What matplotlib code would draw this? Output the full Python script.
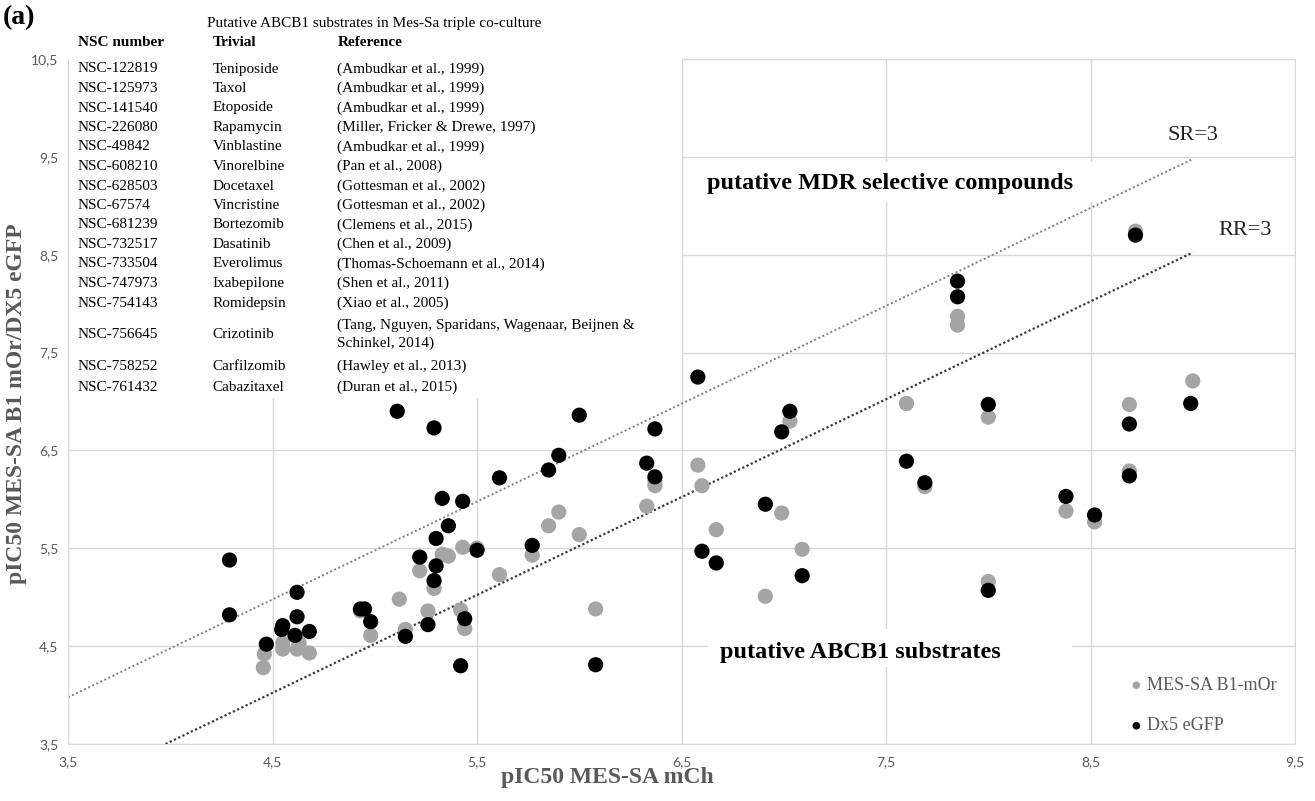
import numpy as np
import matplotlib
matplotlib.use("Agg")
import matplotlib.pyplot as plt
from matplotlib.patches import Rectangle

# --- data ---
dx5_x = [4.29, 4.29, 4.47, 4.55, 4.545, 4.61, 4.62, 4.62, 4.68, 4.93, 4.95, 4.98, 5.11, 5.15,
         5.22, 5.26, 5.29, 5.30, 5.30, 5.29, 5.33, 5.36, 5.43, 5.44, 5.42, 5.50, 5.61, 5.77,
         5.85, 5.90, 6.00, 6.08, 6.33, 6.37, 6.37, 6.58, 6.60, 6.67, 6.91, 6.99, 7.03, 7.09,
         7.60, 7.69, 7.85, 7.85, 8.00, 8.00, 8.38, 8.52, 8.69, 8.69, 8.72, 8.99]
dx5_y = [5.38, 4.82, 4.52, 4.71, 4.67, 4.61, 5.05, 4.80, 4.65, 4.88, 4.88, 4.75, 6.90, 4.60,
         5.41, 4.72, 6.73, 5.60, 5.32, 5.17, 6.01, 5.73, 5.98, 4.78, 4.30, 5.48, 6.22, 5.53,
         6.30, 6.45, 6.86, 4.31, 6.37, 6.72, 6.23, 7.25, 5.47, 5.35, 5.95, 6.69, 6.90, 5.22,
         6.39, 6.17, 8.23, 8.07, 6.97, 5.07, 6.03, 5.84, 6.77, 6.24, 8.70, 6.98]

b1_x = [4.455, 4.46, 4.55, 4.55, 4.62, 4.63, 4.68, 4.93, 4.98, 5.12, 5.15, 5.22, 5.26, 5.29,
        5.33, 5.36, 5.43, 5.42, 5.44, 5.50, 5.61, 5.77, 5.85, 5.90, 6.00, 6.08, 6.33, 6.37,
        6.37, 6.58, 6.60, 6.67, 6.91, 6.99, 7.03, 7.09, 7.60, 7.69, 7.85, 7.85, 8.00, 8.00,
        8.38, 8.52, 8.69, 8.69, 8.72, 9.00]
b1_y = [4.28, 4.42, 4.53, 4.47, 4.47, 4.53, 4.43, 4.86, 4.61, 4.98, 4.67, 5.27, 4.86, 5.09,
        5.44, 5.42, 5.51, 4.87, 4.68, 5.50, 5.23, 5.43, 5.73, 5.87, 5.64, 4.88, 5.93, 6.14,
        6.19, 6.35, 6.14, 5.69, 5.01, 5.86, 6.80, 5.49, 6.98, 6.13, 7.87, 7.78, 6.84, 5.16,
        5.88, 5.77, 6.97, 6.29, 8.74, 7.21]

ratio = 3           # SR = RR = 3 threshold lines
line_x_end = 9.0

ticks = [3.5, 4.5, 5.5, 6.5, 7.5, 8.5, 9.5, 10.5]

table_title = "Putative ABCB1 substrates in Mes-Sa triple co-culture"
table_head = ["NSC number", "Trivial", "Reference"]
nsc = ["NSC-122819", "NSC-125973", "NSC-141540", "NSC-226080", "NSC-49842", "NSC-608210",
       "NSC-628503", "NSC-67574", "NSC-681239", "NSC-732517", "NSC-733504", "NSC-747973",
       "NSC-754143", "NSC-756645", "NSC-758252", "NSC-761432"]
trivial = ["Teniposide", "Taxol", "Etoposide", "Rapamycin", "Vinblastine", "Vinorelbine",
           "Docetaxel", "Vincristine", "Bortezomib", "Dasatinib", "Everolimus", "Ixabepilone",
           "Romidepsin", "Crizotinib", "Carfilzomib", "Cabazitaxel"]
refs = ["(Ambudkar et al., 1999)", "(Ambudkar et al., 1999)", "(Ambudkar et al., 1999)",
        "(Miller, Fricker & Drewe, 1997)", "(Ambudkar et al., 1999)", "(Pan et al., 2008)",
        "(Gottesman et al., 2002)", "(Gottesman et al., 2002)", "(Clemens et al., 2015)",
        "(Chen et al., 2009)", "(Thomas-Schoemann et al., 2014)", "(Shen et al., 2011)",
        "(Xiao et al., 2005)",
        "(Tang, Nguyen, Sparidans, Wagenaar, Beijnen &\nSchinkel, 2014)",
        "(Hawley et al., 2013)", "(Duran et al., 2015)"]

SERIF = "Liberation Serif"
W, H = 1315, 801
GRID = "#d9d9d9"
TXT = "#595959"


def fx(px):
    return px / W


def fy(py):
    return 1 - py / H


fig = plt.figure(figsize=(W / 100, H / 100), dpi=100)
ax = fig.add_axes([fx(68), fy(744), fx(1295) - fx(68), fy(59) - fy(744)])
ax.set_xlim(3.5, 9.5)
ax.set_ylim(3.5, 10.5)
ax.set_xticks(ticks[:-1])
ax.set_yticks(ticks)
ax.set_xticklabels([f"{t:.1f}".replace(".", ",") for t in ticks[:-1]])
ax.set_yticklabels([f"{t:.1f}".replace(".", ",") for t in ticks])
ax.tick_params(length=0, labelsize=10, labelcolor=TXT)
ax.tick_params(axis="x", pad=9)
ax.tick_params(axis="y", pad=7)
for lab in ax.get_xticklabels() + ax.get_yticklabels():
    lab.set_family("Lato")
ax.grid(True, color=GRID, lw=1)
ax.set_axisbelow(True)
for s in ["left", "bottom", "right"]:
    ax.spines[s].set_color(GRID)
ax.spines["top"].set_visible(False)
ax.axhline(10.5, xmin=0.5, xmax=1, color=GRID, lw=1, clip_on=False, zorder=2.5)

# white panels (table area and label boxes)
ax.add_patch(Rectangle((3.5, 7.04), 3.0, 3.6, facecolor="white", edgecolor="none", zorder=1))
ax.add_patch(Rectangle((6.59, 9.04), 1.95, 0.41, facecolor="white", edgecolor="none", zorder=1))
ax.add_patch(Rectangle((6.63, 4.29), 1.78, 0.39, facecolor="white", edgecolor="none", zorder=1))

# ratio lines
off = np.log10(ratio)
sr_x = np.array([3.5, line_x_end])
rr_x = np.array([3.5 + off, line_x_end])
ax.plot(sr_x, sr_x + off, color="#7f7f7f", lw=1.4, ls=(0, (1, 1.3)), zorder=2)
ax.plot(rr_x, rr_x - off, color="#3a3a3a", lw=1.6, ls=(0, (1, 1.1)), zorder=2)

ax.scatter(b1_x, b1_y, s=120, color="#a5a5a5", edgecolors="none", zorder=3, label="MES-SA B1-mOr")
ax.scatter(dx5_x, dx5_y, s=120, color="black", edgecolors="none", zorder=4, label="Dx5 eGFP")

ax.text(6.626, 9.23, "putative MDR selective compounds", family=SERIF, weight="bold",
        fontsize=17.5, va="center", ha="left", zorder=5)
ax.text(6.686, 4.44, "putative ABCB1 substrates", family=SERIF, weight="bold",
        fontsize=17.5, va="center", ha="left", zorder=5)
ax.text(9.0, 9.72, "SR=3", family=SERIF, fontsize=16, va="center", ha="center", color="#222222")
ax.text(9.255, 8.75, "RR=3", family=SERIF, fontsize=16, va="center", ha="center", color="#222222")

leg = ax.legend(loc="upper left", bbox_to_anchor=(fx(1121), fy(668)), bbox_transform=fig.transFigure,
                frameon=False, markerscale=0.5, handlelength=0.7, handletextpad=0.25,
                labelspacing=1.3, borderpad=0, prop={"family": SERIF, "size": 13})
for t in leg.get_texts():
    t.set_color(TXT)

# axis titles
fig.text(fx(607), fy(778), "pIC50 MES-SA mCh", family=SERIF, weight="bold", fontsize=17,
         color=TXT, ha="center", va="center")
fig.text(fx(17), fy(404), "pIC50 MES-SA B1 mOr/DX5 eGFP", family=SERIF, weight="bold",
         fontsize=17, color=TXT, ha="center", va="center", rotation=90)
fig.text(fx(3), fy(18), "(a)", family=SERIF, weight="bold", fontsize=20, ha="left", va="center")

# table of putative substrates
fig.text(fx(207), fy(23), table_title, family=SERIF, fontsize=11, ha="left", va="center")
col_x = [78, 212.5, 337.5]
for cx, h in zip(col_x, table_head):
    fig.text(fx(cx), fy(42), h, family=SERIF, weight="bold", fontsize=11, ha="left", va="center")
row_y = [69 + 19.5 * i for i in range(13)] + [334, 366, 387]
for y, a, b, c in zip(row_y, nsc, trivial, refs):
    fig.text(fx(col_x[0]), fy(y), a, family=SERIF, fontsize=11, ha="left", va="center")
    fig.text(fx(col_x[1]), fy(y), b, family=SERIF, fontsize=11, ha="left", va="center")
    fig.text(fx(col_x[2]), fy(y), c, family=SERIF, fontsize=11, ha="left", va="center",
             linespacing=1.45)

fig.savefig("out.png", dpi=100)
